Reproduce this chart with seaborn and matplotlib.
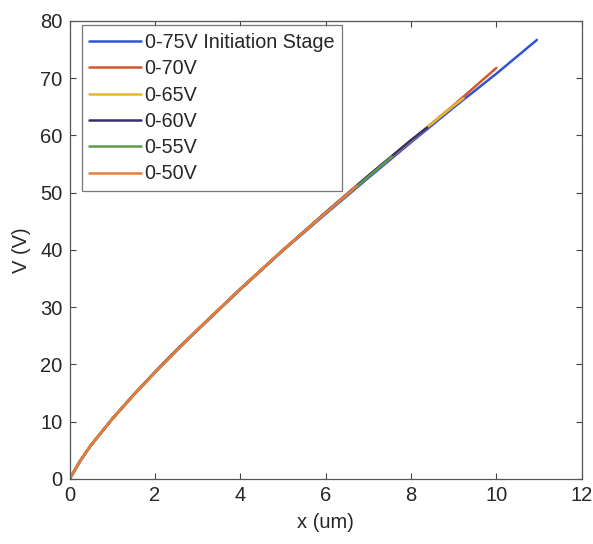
import matplotlib
matplotlib.use("Agg")
import matplotlib.pyplot as plt
import seaborn as sns
import pandas as pd

# ---- data ----
labels = ["0-75V Initiation Stage", "0-70V", "0-65V", "0-60V", "0-55V", "0-50V"]
colors = ["#2f55d4", "#d4572a", "#e9b52c", "#3a2d6c", "#5c9a48", "#ec7a3a"]

x_75 = [0, 0.25, 0.5, 0.75, 1, 1.5, 2, 2.5, 3, 4, 5, 6, 7, 8, 9, 10, 10.95]
v_75 = [0, 3.2, 5.9, 8.2, 10.5, 14.7, 18.6, 22.4, 26.0, 33.1, 39.9, 46.3, 52.6, 58.8, 64.9, 70.8, 76.7]

x_70 = [0, 0.25, 0.5, 0.75, 1, 1.5, 2, 2.5, 3, 4, 5, 6, 7, 8, 9, 10.0]
v_70 = [0, 3.2, 5.9, 8.2, 10.5, 14.7, 18.6, 22.4, 26.1, 33.2, 40.0, 46.5, 52.9, 59.1, 65.3, 71.8]

x_65 = [0, 0.25, 0.5, 0.75, 1, 1.5, 2, 2.5, 3, 4, 5, 6, 7, 8, 9, 9.23]
v_65 = [0, 3.2, 5.9, 8.2, 10.5, 14.7, 18.7, 22.5, 26.1, 33.2, 40.0, 46.5, 52.9, 59.1, 65.2, 66.5]

x_60 = [0, 0.25, 0.5, 0.75, 1, 1.5, 2, 2.5, 3, 4, 5, 6, 7, 8, 8.38]
v_60 = [0, 3.2, 5.9, 8.2, 10.5, 14.7, 18.7, 22.5, 26.1, 33.2, 40.0, 46.6, 53.0, 59.2, 61.4]

x_55 = [0, 0.25, 0.5, 0.75, 1, 1.5, 2, 2.5, 3, 4, 5, 6, 7, 7.55]
v_55 = [0, 3.2, 5.9, 8.2, 10.5, 14.7, 18.6, 22.4, 26.1, 33.2, 40.0, 46.5, 52.8, 56.3]

x_50 = [0, 0.25, 0.5, 0.75, 1, 1.5, 2, 2.5, 3, 4, 5, 6, 6.73]
v_50 = [0, 3.2, 5.9, 8.2, 10.5, 14.7, 18.6, 22.4, 26.1, 33.2, 40.0, 46.5, 51.2]

xs = [x_75, x_70, x_65, x_60, x_55, x_50]
vs = [v_75, v_70, v_65, v_60, v_55, v_50]

x_ticks = [0, 2, 4, 6, 8, 10, 12]
y_ticks = [0, 10, 20, 30, 40, 50, 60, 70, 80]

# ---- plotting ----
sns.set_theme(style="white")
plt.rcParams["font.family"] = ["Liberation Sans", "DejaVu Sans"]

fig = plt.figure(figsize=(5.93, 5.44), dpi=100)
ax = fig.add_axes([0.1174, 0.1195, 0.981 - 0.1174, 0.9614 - 0.1195])

for lab, col, x, v in zip(labels, colors, xs, vs):
    df = pd.DataFrame({"x": x, "V": v})
    sns.lineplot(data=df, x="x", y="V", ax=ax, color=col, lw=1.8,
                 label=lab, sort=False, estimator=None)

ax.set_xlim(0, 12)
ax.set_ylim(0, 80)
ax.set_xticks(x_ticks)
ax.set_yticks(y_ticks)
ax.tick_params(direction="in", length=4, width=0.8, colors="#444444",
               labelcolor="#262626", labelsize=14.5, top=True, right=True,
               bottom=True, left=True, pad=5)
for s in ax.spines.values():
    s.set_color("#555555")
    s.set_linewidth(0.9)

ax.set_xlabel("x (um)", fontsize=14.5, color="#262626", labelpad=6)
ax.set_ylabel("V (V)", fontsize=14.5, color="#262626", labelpad=7)

leg = ax.legend(loc="upper left", bbox_to_anchor=(0.0234, 0.991),
                borderaxespad=0, fontsize=14.2, frameon=True, fancybox=False,
                handlelength=2.6, handletextpad=0.2, labelspacing=0.37,
                borderpad=0.4)
leg.get_frame().set_edgecolor("#555555")
leg.get_frame().set_linewidth(0.9)
for t in leg.get_texts():
    t.set_color("#262626")

fig.savefig("out.png", dpi=100)
